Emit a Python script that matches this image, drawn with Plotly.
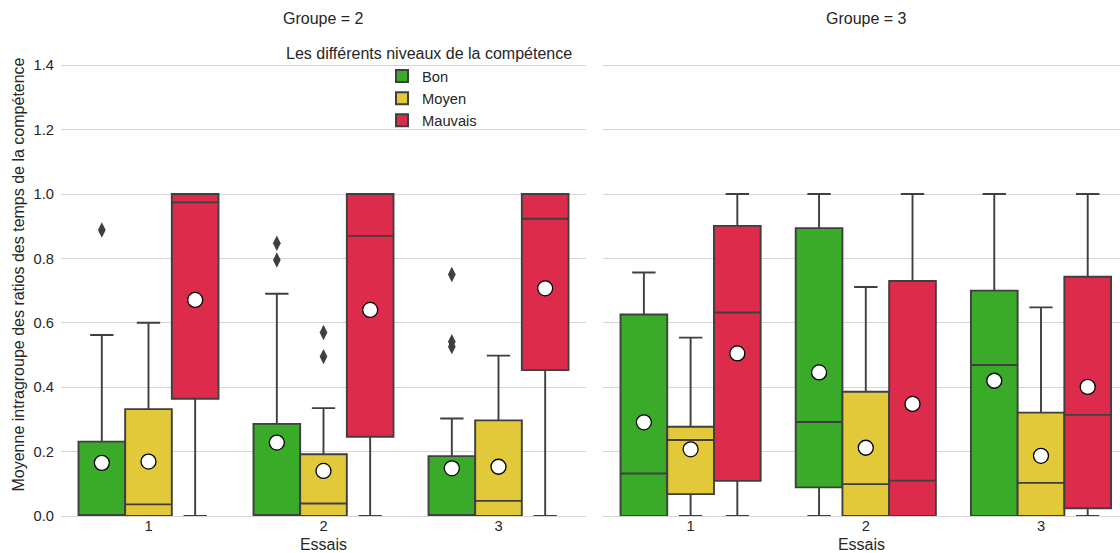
import plotly.graph_objects as go

# ---- data ----
trials = ["1", "2", "3"]
levels = ["Bon", "Moyen", "Mauvais"]
colors = {"Bon": "#3aaa29", "Moyen": "#e2c93a", "Mauvais": "#dd2c4b"}

# Groupe = 2
g2_q1 = {"Bon": [0.0, 0.0, 0.0], "Moyen": [0.0, 0.0, 0.0], "Mauvais": [0.364, 0.246, 0.453]}
g2_med = {"Bon": [0.0, 0.0, 0.0], "Moyen": [0.036, 0.039, 0.047], "Mauvais": [0.974, 0.870, 0.923]}
g2_q3 = {"Bon": [0.231, 0.286, 0.186], "Moyen": [0.332, 0.192, 0.297], "Mauvais": [1.0, 1.0, 1.0]}
g2_lo = {"Bon": [0.0, 0.0, 0.0], "Moyen": [0.0, 0.0, 0.0], "Mauvais": [0.0, 0.0, 0.0]}
g2_hi = {"Bon": [0.562, 0.690, 0.303], "Moyen": [0.600, 0.335, 0.498], "Mauvais": [1.0, 1.0, 1.0]}
g2_mean = {"Bon": [0.165, 0.228, 0.148], "Moyen": [0.169, 0.140, 0.153], "Mauvais": [0.671, 0.640, 0.707]}
g2_out_trial = {"Bon": ["1", "2", "2", "3", "3", "3"], "Moyen": ["2", "2"], "Mauvais": []}
g2_out_val = {"Bon": [0.888, 0.847, 0.795, 0.750, 0.541, 0.526], "Moyen": [0.570, 0.495], "Mauvais": []}

# Groupe = 3
g3_q1 = {"Bon": [0.0, 0.089, 0.0], "Moyen": [0.068, 0.0, 0.0], "Mauvais": [0.109, 0.0, 0.024]}
g3_med = {"Bon": [0.132, 0.292, 0.469], "Moyen": [0.236, 0.099, 0.103], "Mauvais": [0.632, 0.110, 0.314]}
g3_q3 = {"Bon": [0.626, 0.894, 0.700], "Moyen": [0.277, 0.386, 0.321], "Mauvais": [0.901, 0.730, 0.743]}
g3_lo = {"Bon": [0.0, 0.0, 0.0], "Moyen": [0.0, 0.0, 0.0], "Mauvais": [0.0, 0.0, 0.0]}
g3_hi = {"Bon": [0.756, 1.0, 1.0], "Moyen": [0.554, 0.711, 0.648], "Mauvais": [1.0, 1.0, 1.0]}
g3_mean = {"Bon": [0.291, 0.446, 0.420], "Moyen": [0.207, 0.212, 0.187], "Mauvais": [0.505, 0.348, 0.401]}

yticks = [0.0, 0.2, 0.4, 0.6, 0.8, 1.0, 1.2, 1.4]

# ---- figure ----
FONT = "Liberation Sans, Arial, sans-serif"
TXT = "#262626"
EDGE = "#3f3f3f"
GRID = "#d5d5d5"
F_BIG = 16
F_SMALL = 14.7
n_h = len(levels)
bw = 0.8 / n_h

fig = go.Figure()


def add_facet(q1, med, q3, lo, hi, mean, out_t, out_v, xa, ya, legend):
    for hi_i, lev in enumerate(levels):
        off = (hi_i - (n_h - 1) / 2) * bw
        xs = [trials.index(t) + off for t in trials]
        fig.add_trace(go.Box(
            x=xs, q1=q1[lev], median=med[lev], q3=q3[lev],
            lowerfence=lo[lev], upperfence=hi[lev],
            width=bw, whiskerwidth=0.5, boxpoints=False,
            fillcolor=colors[lev], line=dict(color=EDGE, width=1.9),
            name=lev, legendgroup=lev, showlegend=legend,
            xaxis=xa, yaxis=ya, hoverinfo="skip"))
        if out_t and out_t.get(lev):
            fig.add_trace(go.Scatter(
                x=[trials.index(t) + off for t in out_t[lev]], y=out_v[lev],
                mode="markers", marker=dict(symbol="diamond-tall", size=11, color=EDGE,
                                            line=dict(width=0)),
                showlegend=False, xaxis=xa, yaxis=ya, hoverinfo="skip"))
        fig.add_trace(go.Scatter(
            x=xs, y=mean[lev], mode="markers",
            marker=dict(symbol="circle", size=15, color="white",
                        line=dict(color="black", width=1.3)),
            showlegend=False, xaxis=xa, yaxis=ya, hoverinfo="skip"))


add_facet(g2_q1, g2_med, g2_q3, g2_lo, g2_hi, g2_mean, g2_out_trial, g2_out_val, "x", "y", True)
add_facet(g3_q1, g3_med, g3_q3, g3_lo, g3_hi, g3_mean, None, None, "x2", "y2", False)

L, R, T, B = 61, 0, 33, 37
W, H = 1120, 553
pw = W - L - R
ph = H - T - B


def px_x(p):
    return (p - L) / pw


def px_y(p):
    return (H - B - p) / ph


xcommon = dict(tickvals=[0, 1, 2], ticktext=trials, showgrid=False, zeroline=False,
               showline=True, linecolor=GRID, linewidth=1, ticks="", automargin=False,
               ticklabelstandoff=-4,
               tickfont=dict(size=F_SMALL, color=TXT, family=FONT),
               title=dict(text="Essais", font=dict(size=F_BIG, color=TXT, family=FONT), standoff=7))
ycommon = dict(range=[0, 1.5], tickvals=yticks, tickformat=".1f", showgrid=True, gridcolor=GRID,
               gridwidth=1, zeroline=False, showline=False, ticks="", automargin=False,
               tickfont=dict(size=F_SMALL, color=TXT, family=FONT))

fig.update_layout(
    width=W, height=H,
    margin=dict(l=L, r=R, t=T, b=B),
    paper_bgcolor="white", plot_bgcolor="white",
    font=dict(family=FONT, color=TXT, size=F_SMALL),
    boxmode="overlay",
    xaxis=dict(domain=[0, px_x(586)], range=[-0.5, 2.5], anchor="y", **xcommon),
    xaxis2=dict(domain=[px_x(603), 1], range=[-0.5, 2.451], anchor="y2", **xcommon),
    yaxis=dict(domain=[0, 1], anchor="x", ticklabelstandoff=6,
               title=dict(text="Moyenne intragroupe des ratios des temps de la compétence",
                          font=dict(size=F_BIG, color=TXT, family=FONT), standoff=4),
               **ycommon),
    yaxis2=dict(domain=[0, 1], anchor="x2", matches="y", showticklabels=False, **ycommon),
    legend=dict(x=px_x(382), y=px_y(60), xanchor="left", yanchor="top",
                bgcolor="rgba(0,0,0,0)", font=dict(size=F_SMALL, color=TXT, family=FONT),
                tracegroupgap=0, itemsizing="constant"),
    annotations=[
        dict(text="Groupe = 2", x=px_x(323), y=px_y(18), xref="paper", yref="paper",
             xanchor="center", yanchor="middle", showarrow=False,
             font=dict(size=F_BIG, color=TXT, family=FONT)),
        dict(text="Groupe = 3", x=px_x(866), y=px_y(18), xref="paper", yref="paper",
             xanchor="center", yanchor="middle", showarrow=False,
             font=dict(size=F_BIG, color=TXT, family=FONT)),
        dict(text="Les différents niveaux de la compétence", x=px_x(428.5), y=px_y(53),
             xref="paper", yref="paper", xanchor="center", yanchor="middle", showarrow=False,
             font=dict(size=F_BIG, color=TXT, family=FONT)),
    ],
)

fig.write_html("out.html", config={"displayModeBar": False},
               post_script="document.body.style.margin='0';document.body.style.overflow='hidden';")
